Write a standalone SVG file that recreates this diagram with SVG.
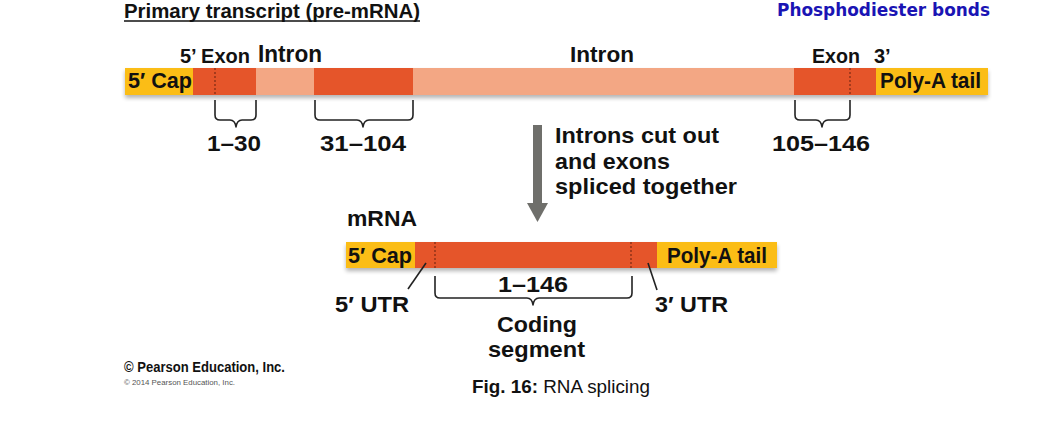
<svg xmlns="http://www.w3.org/2000/svg" width="1051" height="429" viewBox="0 0 1051 429">
<style>
text{font-family:"Liberation Sans",Arial,sans-serif;fill:#111}
.b{font-weight:bold}
.lbl{font-size:22px;font-weight:bold}
.brace{fill:none;stroke:#222;stroke-width:1.6;stroke-linejoin:round}
.dot{stroke:#7a2a14;stroke-width:1.2;stroke-dasharray:2 2}
.cap{fill:#fbbd14}
.ex{fill:#e5542c}
.in{fill:#f3a784}
.lead{stroke:#222;stroke-width:1.6}
</style>
<defs>
<filter id="sh" x="-5%" y="-50%" width="110%" height="200%">
<feGaussianBlur in="SourceAlpha" stdDeviation="2"/>
<feOffset dx="0" dy="3" result="o"/>
<feComponentTransfer><feFuncA type="linear" slope="0.3"/></feComponentTransfer>
<feMerge><feMergeNode/><feMergeNode in="SourceGraphic"/></feMerge>
</filter>
</defs>
<rect width="1051" height="429" fill="#fff"/>

<g id="title">
<text x="124" y="18" class="b" font-size="19.5" textLength="296" lengthAdjust="spacingAndGlyphs">Primary transcript (pre-mRNA)</text>
<line x1="124" y1="21" x2="420" y2="21" stroke="#111" stroke-width="1.5"/>
</g>
<g id="note">
<text x="777" y="16" font-size="18" font-weight="bold" style="fill:#1a14b4;font-family:'DejaVu Sans',sans-serif" textLength="213" lengthAdjust="spacingAndGlyphs">Phosphodiester bonds</text>
</g>

<g id="premrna">
<g filter="url(#sh)">
<rect class="cap" x="125" y="68" width="68" height="27"/>
<rect class="ex" x="193" y="68" width="63" height="27"/>
<rect class="in" x="256" y="68" width="58" height="27"/>
<rect class="ex" x="314" y="68" width="99" height="27"/>
<rect class="in" x="413" y="68" width="381" height="27"/>
<rect class="ex" x="794" y="68" width="82" height="27"/>
<rect class="cap" x="876" y="68" width="112" height="27"/>
</g>
<line class="dot" x1="215" y1="68" x2="215" y2="95"/>
<line class="dot" x1="850" y1="68" x2="850" y2="95"/>
<text x="128" y="88" class="lbl" font-size="21" textLength="64" lengthAdjust="spacingAndGlyphs">5′ Cap</text>
<text x="880" y="88" class="lbl" font-size="21" textLength="101" lengthAdjust="spacingAndGlyphs">Poly-A tail</text>
<text x="180" y="63" class="b" font-size="20" textLength="70" lengthAdjust="spacingAndGlyphs">5’ Exon</text>
<text x="258" y="62" class="b" font-size="23" textLength="64" lengthAdjust="spacingAndGlyphs">Intron</text>
<text x="570" y="62" class="b" font-size="22" textLength="64" lengthAdjust="spacingAndGlyphs">Intron</text>
<text x="812" y="63" class="b" font-size="20" textLength="48" lengthAdjust="spacingAndGlyphs">Exon</text>
<text x="874" y="63" class="b" font-size="20">3’</text>
</g>

<g id="brace1">
<path class="brace" d="M215,100 V115 Q215,120 220,120 H230 Q235,120 236,127 Q237,120 242,120 H251 Q256,120 256,115 V100"/>
<text x="207" y="151" class="lbl" textLength="54" lengthAdjust="spacingAndGlyphs">1–30</text>
</g>
<g id="brace2">
<path class="brace" d="M315,100 V115 Q315,120 320,120 H357 Q362,120 363,127 Q364,120 369,120 H408 Q413,120 413,115 V100"/>
<text x="320" y="151" class="lbl" textLength="86" lengthAdjust="spacingAndGlyphs">31–104</text>
</g>
<g id="brace3">
<path class="brace" d="M795,100 V115 Q795,120 800,120 H816 Q821,120 822,127 Q823,120 828,120 H845 Q850,120 850,115 V100"/>
<text x="772" y="151" class="lbl" textLength="98" lengthAdjust="spacingAndGlyphs">105–146</text>
</g>

<g id="connectors">
<rect x="533" y="125" width="9" height="80" fill="#6f6f6b"/>
<polygon points="527,203 548,203 537.5,222" fill="#6f6f6b"/>
</g>
<g id="step">
<text x="555" y="143" class="lbl" textLength="164" lengthAdjust="spacingAndGlyphs">Introns cut out</text>
<text x="555" y="169" class="lbl" textLength="115" lengthAdjust="spacingAndGlyphs">and exons</text>
<text x="555" y="194" class="lbl" textLength="182" lengthAdjust="spacingAndGlyphs">spliced together</text>
</g>

<g id="mrna">
<text x="347" y="226" class="lbl" font-size="19" textLength="70" lengthAdjust="spacingAndGlyphs">mRNA</text>
<g filter="url(#sh)">
<rect class="cap" x="346" y="242" width="69" height="26"/>
<rect class="ex" x="415" y="242" width="242" height="26"/>
<rect class="cap" x="657" y="242" width="120" height="26"/>
</g>
<line class="dot" x1="435" y1="242" x2="435" y2="268"/>
<line class="dot" x1="631" y1="242" x2="631" y2="268"/>
<text x="348" y="263" class="lbl" font-size="20" textLength="64" lengthAdjust="spacingAndGlyphs">5′ Cap</text>
<text x="667" y="263" class="lbl" font-size="20" textLength="100" lengthAdjust="spacingAndGlyphs">Poly-A tail</text>
</g>
<g id="utr5">
<line class="lead" x1="426" y1="263" x2="408" y2="289"/>
<text x="335" y="312" class="lbl" textLength="74" lengthAdjust="spacingAndGlyphs">5′ UTR</text>
</g>
<g id="utr3">
<line class="lead" x1="648" y1="263" x2="657" y2="290"/>
<text x="655" y="312" class="lbl" textLength="73" lengthAdjust="spacingAndGlyphs">3′ UTR</text>
</g>
<g id="coding">
<path class="brace" d="M435,276 V293 Q435,298 440,298 H527 Q532,298 533,305 Q534,298 539,298 H627 Q632,298 632,293 V276"/>
<text x="498" y="292" class="lbl" textLength="70" lengthAdjust="spacingAndGlyphs">1–146</text>
<text x="497" y="332" class="lbl" textLength="80" lengthAdjust="spacingAndGlyphs">Coding</text>
<text x="488" y="357" class="lbl" textLength="97" lengthAdjust="spacingAndGlyphs">segment</text>
</g>

<g id="credits">
<text x="124" y="372" class="b" font-size="14" textLength="161" lengthAdjust="spacingAndGlyphs">© Pearson Education, Inc.</text>
<text x="124" y="385" font-size="8" style="fill:#555" textLength="111" lengthAdjust="spacingAndGlyphs">© 2014 Pearson Education, Inc.</text>
<text x="472" y="393" font-size="18" textLength="178" lengthAdjust="spacingAndGlyphs"><tspan font-weight="bold">Fig. 16:</tspan> RNA splicing</text>
</g>
</svg>
